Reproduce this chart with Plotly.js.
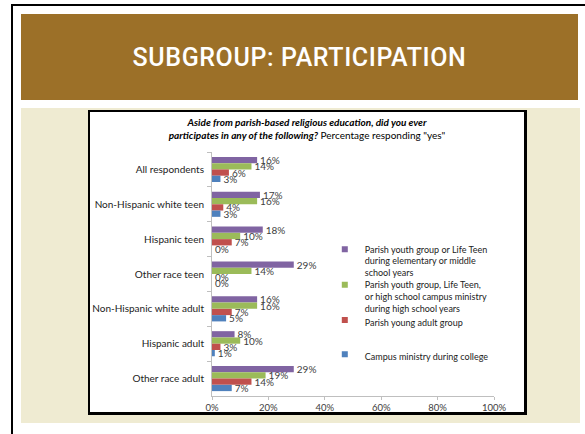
<!DOCTYPE html>
<html>
<head>
<meta charset="utf-8">
<script src="https://cdn.plot.ly/plotly-3.0.1.min.js"></script>
<style>
  html, body { margin: 0; padding: 0; background: #ffffff; }
  body { width: 585px; height: 434px; position: relative; overflow: hidden; }
  #frameTop { position: absolute; left: 11px; top: 4px; width: 574px; height: 2px; background: #000; }
  #frameLeft { position: absolute; left: 11px; top: 4px; width: 2px; height: 430px; background: #000; }
  #banner { position: absolute; left: 21px; top: 14px; width: 557px; height: 86px; background: #9C7028;
            display: flex; align-items: center; justify-content: center; }
  #banner span { color: #ffffff; font-family: Roboto, "Liberation Sans Narrow", sans-serif;
                 font-size: 25px; font-weight: 500; letter-spacing: 0.6px; }
  #panel { position: absolute; left: 21px; top: 108px; width: 559px; height: 315px; background: #EFEBD2; }
  #box { position: absolute; left: 88px; top: 110px; width: 439px; height: 305px; box-sizing: border-box;
         border: 2px solid #000; border-right-width: 3px; border-bottom-width: 3px; background: #fff; }
  #chart { position: absolute; left: 90px; top: 112px; width: 434px; height: 300px; }
</style>
</head>
<body>
<div id="frameTop"></div>
<div id="frameLeft"></div>
<div id="banner"><span>SUBGROUP: PARTICIPATION</span></div>
<div id="panel"></div>
<div id="box"></div>
<div id="chart"></div>
<script>
const categories = [
  'All respondents',
  'Non-Hispanic white teen',
  'Hispanic teen',
  'Other race teen',
  'Non-Hispanic white adult',
  'Hispanic adult',
  'Other race adult'
];
const youthElemMiddle = [16, 17, 18, 29, 16, 8, 29];
const youthHighSchool = [14, 16, 10, 14, 16, 10, 19];
const youngAdultGroup = [6, 4, 7, 0, 7, 3, 14];
const campusCollege   = [3, 3, 0, 0, 5, 1, 7];
const seriesNames = [
  'Parish youth group or Life Teen<br>during elementary or middle<br>school years',
  'Parish youth group, Life Teen,<br>or high school campus ministry<br>during high school years',
  'Parish young adult group',
  'Campus ministry during college'
];
const xTickVals = [0, 20, 40, 60, 80, 100];

const FONT = 'Lato, "Open Sans", sans-serif';
const colors = ['#8064A2', '#9BBB59', '#C0504D', '#4F81BD'];
const seriesValues = [youthElemMiddle, youthHighSchool, youngAdultGroup, campusCollege];
const legendIds = ['legend', 'legend2', 'legend3', 'legend4'];

const traces = [];
seriesValues.forEach((vals, i) => {
  traces.push({
    type: 'bar', orientation: 'h',
    x: vals, y: categories,
    name: seriesNames[i],
    marker: { color: colors[i] },
    text: vals.map(v => v + '%'),
    textposition: 'outside',
    constraintext: 'none',
    cliponaxis: false,
    textfont: { family: FONT, size: 10, color: '#404040' },
    hoverinfo: 'x+y',
    showlegend: false
  });
});
// legend entries (small square markers like the original)
seriesValues.forEach((vals, i) => {
  traces.push({
    type: 'scatter', mode: 'markers',
    x: [null], y: [null],
    name: seriesNames[i],
    marker: { color: colors[i], symbol: 'square', size: 6 },
    legend: legendIds[i],
    showlegend: true,
    hoverinfo: 'skip'
  });
});

function legendAt(y) {
  return {
    x: 0.40, xanchor: 'left', y: y, yanchor: 'top',
    bgcolor: 'rgba(0,0,0,0)', borderwidth: 0,
    font: { family: FONT, size: 9, color: '#222' },
    valign: 'top', itemclick: false, itemdoubleclick: false
  };
}

const layout = {
  width: 434, height: 300,
  margin: { l: 122, r: 30, t: 40, b: 16 },
  paper_bgcolor: '#ffffff', plot_bgcolor: '#ffffff',
  font: { family: FONT, size: 10, color: '#333' },
  title: {
    text: '<b><i>Aside from parish-based religious education, did you ever<br>participates in any of the following?</i></b> Percentage responding "yes"',
    font: { family: FONT, size: 10, color: '#000' },
    x: 0.5, xanchor: 'center', xref: 'container',
    y: 0.955, yanchor: 'middle', yref: 'container'
  },
  barmode: 'group', bargap: 0.28, bargroupgap: 0,
  xaxis: {
    range: [0, 100], tickvals: xTickVals, ticktext: xTickVals.map(v => v + '%'),
    showgrid: false, zeroline: false, showline: true, linecolor: '#BFBFBF', linewidth: 1,
    ticks: 'outside', ticklen: 3, tickcolor: '#BFBFBF',
    tickfont: { family: FONT, size: 9.5, color: '#404040' }, fixedrange: true
  },
  yaxis: {
    type: 'category', autorange: 'reversed',
    showgrid: false, zeroline: false, showline: true, linecolor: '#BFBFBF', linewidth: 1,
    ticks: 'outside', tickson: 'boundaries', ticklen: 4, tickcolor: '#BFBFBF',
    ticklabelstandoff: 5,
    tickfont: { family: FONT, size: 10, color: '#222' }, fixedrange: true
  },
  legend: legendAt(0.652),
  legend2: legendAt(0.507),
  legend3: legendAt(0.362),
  legend4: legendAt(0.222)
};

Plotly.newPlot('chart', traces, layout, { displayModeBar: false, staticPlot: true });
</script>
</body>
</html>
